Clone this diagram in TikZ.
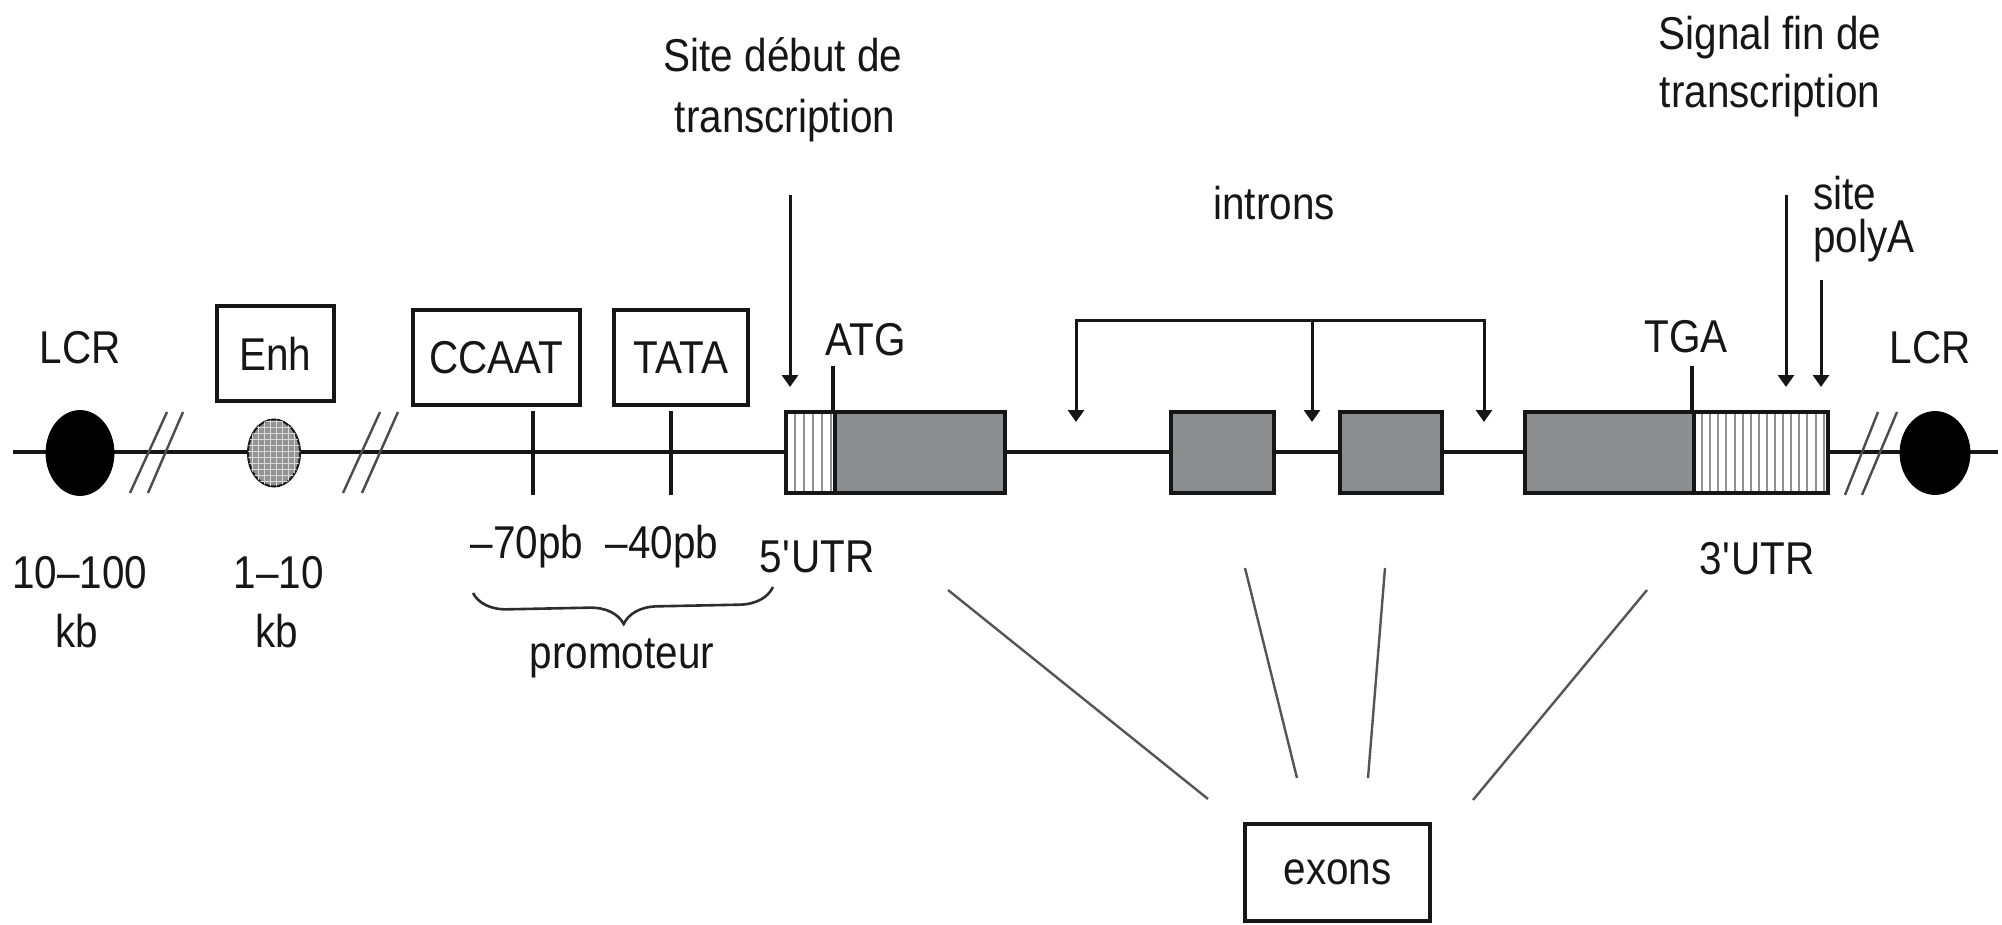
\documentclass[tikz,border=0pt]{standalone}
\usepackage{fontspec}
\setmainfont{Liberation Sans}[FakeStretch=0.88]
\usetikzlibrary{shapes.geometric,arrows.meta,decorations.pathreplacing,patterns}
\definecolor{exongray}{RGB}{140,142,143}
\definecolor{ink}{RGB}{22,22,24}
\definecolor{stripegray}{RGB}{145,145,145}
\definecolor{fangray}{RGB}{85,85,85}

\begin{document}
\begin{tikzpicture}[x=0.5pt,y=-0.5pt,
  lbl/.style={inner sep=0pt, anchor=base, font=\fontsize{23}{27}\selectfont, text=ink},
  tagbox/.style={draw=ink, line width=1.7pt, fill=white, inner sep=0pt,
                 font=\fontsize{23}{27}\selectfont, text=ink},
  genebox/.style={draw=ink, line width=2pt, inner sep=0pt, minimum height=40.5pt},
  coding/.style={genebox, fill=exongray},
  utr/.style={genebox, fill=white},
  dna/.style={draw=ink, line width=1.9pt},
  tick/.style={draw=ink, line width=1.6pt},
  brk/.style={draw=black!70, line width=1.2pt},
  fan/.style={draw=fangray, line width=1.2pt},
  pointer/.style={draw=ink, line width=1.5pt, -{Triangle[width=8pt,length=6pt]}},
  pointers/.style={draw=ink, line width=1.5pt, line join=miter,
                   {Triangle[width=8pt,length=6pt]}-{Triangle[width=8pt,length=6pt]}},
  lcr/.style={ellipse, fill=black, draw=black, inner sep=0pt}
]
\fill[white] (0,0) rectangle (2002,925);
\path[use as bounding box] (0,0) rectangle (2002,925);

% chromosome axis
\coordinate (dnaL) at (13,452);
\coordinate (dnaR) at (1998,452);
\draw[dna] (dnaL) -- (dnaR);

% distal elements
\node[lcr, minimum width=34pt, minimum height=42.5pt] (lcrL) at (80,453) {};
\node[lcr, minimum width=35pt, minimum height=41.5pt] (lcrR) at (1935,453) {};
\node[ellipse, inner sep=0pt, minimum width=26pt, minimum height=33.5pt,
      draw=black!90, line width=1pt, fill=black!42,
      postaction={pattern=grid, pattern color=white!85!black}] (enhdot) at (274,453) {};

% breaks in the axis
\draw[brk] (130,493) -- (167,412);
\draw[brk] (148,493) -- (183,412);
\draw[brk] (343,493) -- (380,412);
\draw[brk] (362,493) -- (398,412);
\draw[brk] (1845,495) -- (1878,412);
\draw[brk] (1862,495) -- (1897,412);

% promoter ticks
\draw[tick] (533,411) -- (533,495);
\draw[tick] (671,411) -- (671,495);

% boxed element names
\node[tagbox, minimum width=58.5pt, minimum height=47.5pt] (enh) at (275.5,353.5) {Enh};
\node[tagbox, minimum width=83.5pt, minimum height=47.5pt] (ccaat) at (496.5,357.5) {CCAAT};
\node[tagbox, minimum width=67pt, minimum height=47.5pt] (tata) at (681,357.5) {TATA};

% gene body
\node[utr, minimum width=24.5pt,
      path picture={\foreach \i in {1,...,5}
        \draw[stripegray, line width=1pt]
          ([xshift=\i*4.5pt]path picture bounding box.north west) --
          ([xshift=\i*4.5pt]path picture bounding box.south west);}] (utr5) at (810.5,452.5) {};
\node[coding, minimum width=85pt] (cds1) at (920,452.5) {};
\node[coding, minimum width=51.5pt] (ex2) at (1222.5,452.5) {};
\node[coding, minimum width=51pt] (ex3) at (1391,452.5) {};
\node[coding, minimum width=84.5pt] (cds4) at (1609.5,452.5) {};
\node[utr, minimum width=67pt,
      path picture={\foreach \i in {1,...,16}
        \draw[stripegray, line width=1pt]
          ([xshift=\i*4.05pt]path picture bounding box.north west) --
          ([xshift=\i*4.05pt]path picture bounding box.south west);}] (utr3) at (1761,452.5) {};

% start and stop codons
\draw[tick] (cds1.north west) -- ++(0,-44);
\draw[tick] (utr3.north west) -- ++(0,-44);

% transcription start
\coordinate (tssTop) at (790,195);
\coordinate (tssTip) at (790,387);
\draw[pointer] (tssTop) -- (tssTip);

% introns
\coordinate (brL) at (1076,320);
\coordinate (brM) at (1312,320);
\coordinate (brR) at (1484,320);
\coordinate (in1) at (1076,422);
\coordinate (in2) at (1312,422);
\coordinate (in3) at (1484,422);
\draw[pointers] (in1) -- (brL) -- (brR) -- (in3);
\draw[pointer] (brM) -- (in2);

% end of transcription and polyA site
\coordinate (tesTop) at (1786,195);
\coordinate (tesTip) at (1786,387);
\coordinate (paTop) at (1821,280);
\coordinate (paTip) at (1821,387);
\draw[pointer] (tesTop) -- (tesTip);
\draw[pointer] (paTop) -- (paTip);

% exons label and its fan of lines
\node[tagbox, minimum width=92.5pt, minimum height=48.5pt] (exons) at (1337.5,872.5) {exons};
\coordinate (f1a) at (948,590);  \coordinate (f1b) at (1208,799);
\coordinate (f2a) at (1245,568); \coordinate (f2b) at (1297,778);
\coordinate (f3a) at (1385,568); \coordinate (f3b) at (1368,778);
\coordinate (f4a) at (1647,590); \coordinate (f4b) at (1473,800);
\draw[fan] (f1a) -- (f1b);
\draw[fan] (f2a) -- (f2b);
\draw[fan] (f3a) -- (f3b);
\draw[fan] (f4a) -- (f4b);

% promoter brace
\coordinate (brcL) at (473,593);
\coordinate (brcR) at (773,587);
\draw[draw=ink!90, line width=1.3pt, decorate,
      decoration={brace, mirror, amplitude=17pt}] (brcL) -- (brcR);

% labels
\node[lbl] (tLCRl) at (80,363) {LCR};
\node[lbl] (tLCRr) at (1930,363) {LCR};
\node[lbl] (tATG) at (866,355) {ATG};
\node[lbl] (tTGA) at (1686,352) {TGA};
\node[lbl] (d1a) at (80,588) {10–100};
\node[lbl] (d1b) at (77,647) {kb};
\node[lbl] (d2a) at (279,588) {1–10};
\node[lbl] (d2b) at (277,647) {kb};
\node[lbl] (p70) at (527,558) {–70pb};
\node[lbl] (p40) at (662,558) {–40pb};
\node[lbl] (u5) at (817,572) {5\textquotesingle UTR};
\node[lbl] (u3) at (1757,574) {3\textquotesingle UTR};
\node[lbl] (tprom) at (622,668) {promoteur};
\node[lbl] (tintr) at (1274,220) {introns};
\node[lbl] (ts1) at (783,72) {Site début de};
\node[lbl] (ts2) at (785,133) {transcription};
\node[lbl] (te1) at (1770,50) {Signal fin de};
\node[lbl] (te2) at (1770,108) {transcription};
\node[lbl, anchor=base west] (tpa1) at (1813,210) {site};
\node[lbl, anchor=base west] (tpa2) at (1813,253) {polyA};
\end{tikzpicture}
\end{document}
